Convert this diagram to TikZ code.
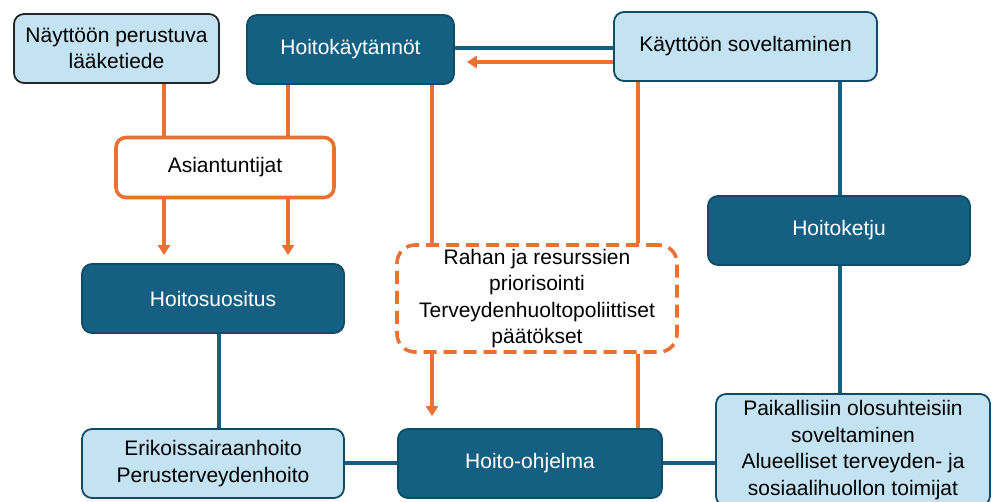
\documentclass[tikz,border=0pt]{standalone}
\usepackage{fontspec}
\setmainfont{Liberation Sans}
\usetikzlibrary{arrows.meta}

\definecolor{tealdark}{HTML}{156082}
\definecolor{tealedge}{HTML}{0F4C66}
\definecolor{paleblue}{HTML}{C3E3F3}
\definecolor{accentorange}{HTML}{E97132}

\tikzset{
  base/.style={rounded corners=10pt, inner sep=0pt, align=center,
    font=\fontsize{21}{26.5}\selectfont, line width=1.8pt},
  darkbox/.style={base, fill=tealdark, draw=tealedge, text=white},
  lightbox/.style={base, fill=paleblue, draw=tealedge, text=black},
  orangebox/.style={base, fill=white, draw=accentorange, line width=3.6pt},
  policybox/.style={base, fill=white, draw=accentorange, line width=3.6pt,
    rounded corners=18pt, dash pattern=on 13pt off 7pt},
  tealline/.style={draw=tealdark, line width=3.6pt},
  orangeline/.style={draw=accentorange, line width=3.6pt},
  orangearrow/.style={orangeline, -{Triangle[width=12pt,length=10pt]}},
}

\begin{document}
\begin{tikzpicture}[x=1pt,y=-1pt]
  \clip (0,0) rectangle (992,502);
  \fill[white] (0,0) rectangle (992,502);

  % column and row guides for the connectors
  \coordinate (c1) at (164,0);
  \coordinate (c2) at (288,0);
  \coordinate (c3) at (432,0);
  \coordinate (c4) at (638,0);
  \coordinate (c5) at (840,0);
  \coordinate (c6) at (219,0);
  \coordinate (r1) at (0,48);
  \coordinate (r2) at (0,62);
  \coordinate (r3) at (0,463);

  % boxes
  \node[lightbox, draw=black!85, minimum width=205pt, minimum height=69pt]
    (nay) at (116.5,48.5) {Näyttöön perustuva\\lääketiede};
  \node[darkbox, minimum width=207pt, minimum height=69pt]
    (hk) at (350.5,49.5) {Hoitokäytännöt};
  \node[lightbox, minimum width=263pt, minimum height=69pt]
    (ky) at (745.5,46.5) {Käyttöön soveltaminen};
  \node[orangebox, minimum width=218pt, minimum height=60pt]
    (asi) at (225,167.5) {Asiantuntijat};
  \node[darkbox, minimum width=262pt, minimum height=69pt]
    (hs) at (213,298.5) {Hoitosuositus};
  \node[darkbox, minimum width=262pt, minimum height=69pt]
    (hkj) at (839,230.5) {Hoitoketju};
  \node[policybox, minimum width=280pt, minimum height=107pt]
    (pol) at (537,298.5) {Rahan ja resurssien\\priorisointi\\Terveydenhuoltopoliittiset\\päätökset};
  \node[lightbox, minimum width=262pt, minimum height=69pt]
    (eri) at (213,463.5) {Erikoissairaanhoito\\Perusterveydenhoito};
  \node[darkbox, minimum width=264pt, minimum height=69pt]
    (ho) at (530,463.5) {Hoito-ohjelma};
  \node[lightbox, minimum width=274pt, minimum height=112pt]
    (pk) at (853,450) {Paikallisiin olosuhteisiin\\soveltaminen\\Alueelliset terveyden- ja\\sosiaalihuollon toimijat};

  % evidence and experience feeding the experts
  \draw[orangeline] (nay.south -| c1) -- (asi.north -| c1);
  \draw[orangeline] (hk.south -| c2) -- (asi.north -| c2);
  \draw[orangearrow, shorten >=8pt] (asi.south -| c1) -- (hs.north -| c1);
  \draw[orangearrow, shorten >=8pt] (asi.south -| c2) -- (hs.north -| c2);

  % top row links
  \draw[tealline] (hk.east |- r1) -- (ky.west |- r1);
  \draw[orangearrow, shorten >=12pt] (ky.west |- r2) -- (hk.east |- r2);

  % through the policy box
  \draw[orangeline] (hk.south -| c3) -- (pol.north -| c3);
  \draw[orangearrow, shorten >=12pt] (pol.south -| c3) -- (ho.north -| c3);
  \draw[orangeline] (ky.south -| c4) -- (pol.north -| c4);
  \draw[orangeline] (pol.south -| c4) -- (ho.north -| c4);

  % care chain on the right
  \draw[tealline] (ky.south -| c5) -- (hkj.north -| c5);
  \draw[tealline] (hkj.south -| c5) -- (pk.north -| c5);

  % bottom row
  \draw[tealline] (hs.south -| c6) -- (eri.north -| c6);
  \draw[tealline] (eri.east |- r3) -- (ho.west |- r3);
  \draw[tealline] (ho.east |- r3) -- (pk.west |- r3);
\end{tikzpicture}
\end{document}
